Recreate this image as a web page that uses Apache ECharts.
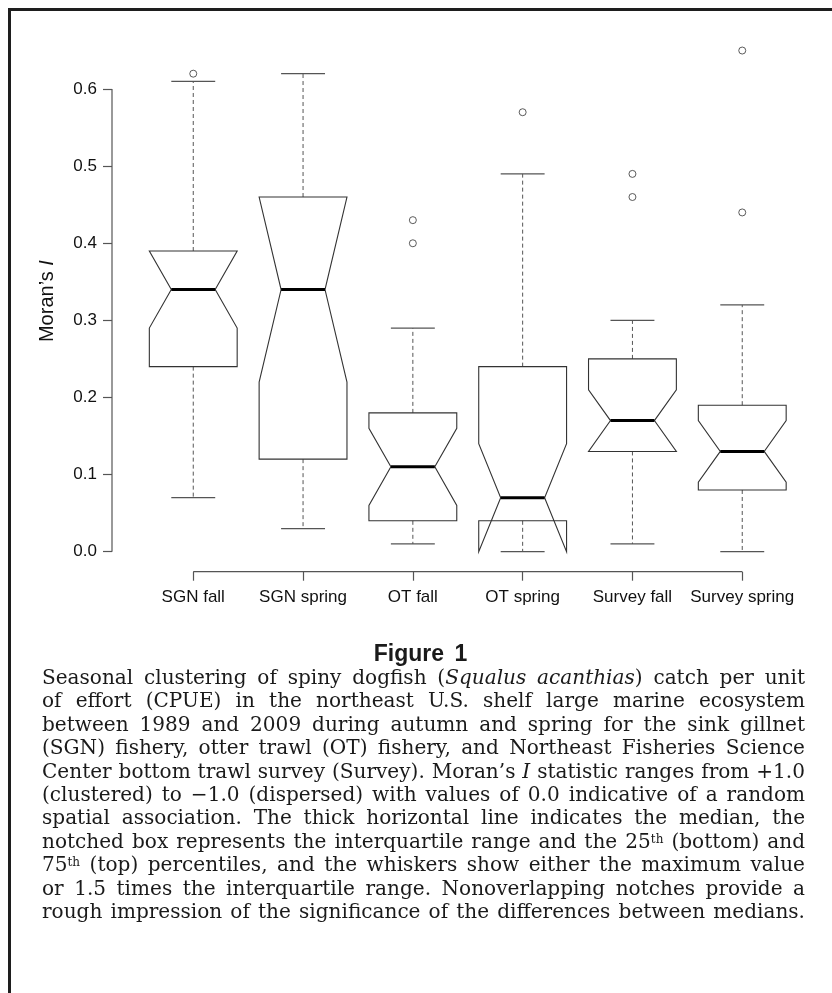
<!DOCTYPE html>
<html>
<head>
<meta charset="utf-8">
<script src="https://cdn.jsdelivr.net/npm/echarts@6/dist/echarts.min.js"></script>
<style>
  html, body { margin: 0; padding: 0; background: #fff; }
  #wrap { position: relative; width: 832px; height: 993px; overflow: hidden; background: #fff; }
  #chart { position: absolute; left: 0; top: 0; width: 832px; height: 993px; }
  #frame { position: absolute; left: 8px; top: 8px; width: 840px; height: 1000px;
           border-top: 3px solid #1e1e1e; border-left: 3px solid #1e1e1e; box-sizing: border-box; }
  #figtitle { position: absolute; left: 9px; width: 823px; top: 640px; text-align: center;
              font-family: "Liberation Sans Narrow", "Liberation Sans", Arial, sans-serif; font-weight: bold;
              font-size: 23px; line-height: 26px; color: #1a1a1a; word-spacing: 4px; }
  #caption { position: absolute; left: 42px; top: 666px; width: 763px;
             font-family: "DejaVu Serif", "Liberation Serif", serif; font-size: 20px; line-height: 23.4px; color: #1a1a1a; }
  #caption div { text-align: justify; text-align-last: justify; height: 23.4px; }
  sup { font-size: 0.6em; line-height: 0; vertical-align: 0.45em; }
</style>
</head>
<body>
<div id="wrap">
  <div id="chart"></div>
  <div id="frame"></div>
  <div id="figtitle">Figure 1</div>
  <div id="caption">
    <div>Seasonal clustering of spiny dogfish (<i>Squalus acanthias</i>) catch per unit</div>
    <div>of effort (CPUE) in the northeast U.S. shelf large marine ecosystem</div>
    <div>between 1989 and 2009 during autumn and spring for the sink gillnet</div>
    <div>(SGN) fishery, otter trawl (OT) fishery, and Northeast Fisheries Science</div>
    <div>Center bottom trawl survey (Survey). Moran’s <i>I</i> statistic ranges from +1.0</div>
    <div>(clustered) to −1.0 (dispersed) with values of 0.0 indicative of a random</div>
    <div>spatial association. The thick horizontal line indicates the median, the</div>
    <div>notched box represents the interquartile range and the 25<sup>th</sup> (bottom) and</div>
    <div>75<sup>th</sup> (top) percentiles, and the whiskers show either the maximum value</div>
    <div>or 1.5 times the interquartile range. Nonoverlapping notches provide a</div>
    <div>rough impression of the significance of the differences between medians.</div>
  </div>
</div>
<script>
// ---- data ----
const categories   = ['SGN fall', 'SGN spring', 'OT fall', 'OT spring', 'Survey fall', 'Survey spring'];
const lowerWhisker = [0.07, 0.03, 0.01, 0.00, 0.01, 0.00];
const q1           = [0.24, 0.12, 0.04, 0.04, 0.13, 0.08];
const notchLow     = [0.29, 0.22, 0.06, 0.00, 0.13, 0.09];
const median       = [0.34, 0.34, 0.11, 0.07, 0.17, 0.13];
const notchHigh    = [0.39, 0.46, 0.16, 0.14, 0.21, 0.17];
const q3           = [0.39, 0.46, 0.18, 0.24, 0.25, 0.19];
const upperWhisker = [0.61, 0.62, 0.29, 0.49, 0.30, 0.32];
const outlierGroup = [1, 3, 3, 4, 5, 5, 6, 6];
const outlierValue = [0.62, 0.43, 0.40, 0.57, 0.49, 0.46, 0.65, 0.44];
const yTicks       = [0.0, 0.1, 0.2, 0.3, 0.4, 0.5, 0.6];
const yTickLabels  = ['0.0', '0.1', '0.2', '0.3', '0.4', '0.5', '0.6'];
const xPositions   = [1, 2, 3, 4, 5, 6];

// ---- caption fitting (typography only) ----
(function fitCaption() {
  const cap = document.getElementById('caption');
  const lines = Array.from(cap.children);
  let maxW = 0;
  lines.forEach(d => { d.style.display = 'inline-block'; d.style.whiteSpace = 'nowrap'; });
  lines.forEach(d => { maxW = Math.max(maxW, d.getBoundingClientRect().width); });
  lines.forEach(d => { d.style.display = ''; d.style.whiteSpace = ''; });
  const base = parseFloat(getComputedStyle(cap).fontSize);
  if (maxW > 0) cap.style.fontSize = (base * 758 / maxW).toFixed(2) + 'px';
})();

// ---- layout / style constants ----
const X_MIN = 0.26, X_MAX = 6.74, Y_MIN = -0.026, Y_MAX = 0.676;
const HALF_W = 0.4, NOTCH_FRAC = 0.5;
const LINE = '#333', AXIS = '#555';

const boxData = categories.map((c, i) => [xPositions[i], lowerWhisker[i], q1[i], notchLow[i], median[i], notchHigh[i], q3[i], upperWhisker[i]]);
const outlierData = outlierGroup.map((g, i) => [g, outlierValue[i]]);

function renderBox(params, api) {
  const x = api.value(0), lw = api.value(1), a = api.value(2), cl = api.value(3),
        md = api.value(4), ch = api.value(5), b = api.value(6), uw = api.value(7);
  const w = HALF_W, n = NOTCH_FRAC * HALF_W;
  const pts = [[x - w, a], [x + w, a], [x + w, cl], [x + n, md], [x + w, ch], [x + w, b],
               [x - w, b], [x - w, ch], [x - n, md], [x - w, cl]].map(p => api.coord(p));
  const P = p => api.coord(p);
  const seg = (p1, p2, style) => ({ type: 'line', shape: { x1: p1[0], y1: p1[1], x2: p2[0], y2: p2[1] }, style });
  const dashed = { stroke: AXIS, lineWidth: 1, lineDash: [4, 3] };
  const solid = { stroke: AXIS, lineWidth: 1.3 };
  return {
    type: 'group',
    children: [
      seg(P([x, b]), P([x, uw]), dashed),
      seg(P([x, a]), P([x, lw]), dashed),
      seg(P([x - n, uw]), P([x + n, uw]), solid),
      seg(P([x - n, lw]), P([x + n, lw]), solid),
      { type: 'polygon', shape: { points: pts }, style: { fill: 'none', stroke: LINE, lineWidth: 1.1 } },
      seg(P([x - n, md]), P([x + n, md]), { stroke: '#000', lineWidth: 3 })
    ]
  };
}

function renderAxes(params, api) {
  const y0 = api.coord([X_MIN, yTicks[0]]);
  const y1 = api.coord([X_MIN, yTicks[yTicks.length - 1]]);
  const x0 = api.coord([xPositions[0], Y_MIN]);
  const x1 = api.coord([xPositions[xPositions.length - 1], Y_MIN]);
  return {
    type: 'group',
    children: [
      { type: 'line', shape: { x1: y0[0], y1: y0[1], x2: y1[0], y2: y1[1] }, style: { stroke: AXIS, lineWidth: 1.2 } },
      { type: 'line', shape: { x1: x0[0], y1: x0[1], x2: x1[0], y2: x1[1] }, style: { stroke: AXIS, lineWidth: 1.2 } }
    ]
  };
}

const chart = echarts.init(document.getElementById('chart'), null, { renderer: 'canvas' });
chart.setOption({
  animation: false,
  backgroundColor: 'transparent',
  grid: { left: 112, right: 8.5, top: 30.5, bottom: 421.3, containLabel: false },
  xAxis: {
    type: 'value', min: X_MIN, max: X_MAX,
    axisLine: { show: false, onZero: false }, splitLine: { show: false },
    axisTick: { show: true, customValues: xPositions, length: 9, lineStyle: { color: AXIS, width: 1.2 } },
    axisLabel: { show: true, customValues: xPositions, margin: 17, fontSize: 17, color: '#111',
                 fontFamily: 'Liberation Sans, Arial, sans-serif',
                 formatter: v => categories[Math.round(v) - 1] }
  },
  yAxis: {
    type: 'value', min: Y_MIN, max: Y_MAX,
    axisLine: { show: false, onZero: false }, splitLine: { show: false },
    axisTick: { show: true, customValues: yTicks, length: 9, lineStyle: { color: AXIS, width: 1.2 } },
    axisLabel: { show: true, customValues: yTicks, margin: 15, fontSize: 17, color: '#111',
                 fontFamily: 'Liberation Sans, Arial, sans-serif',
                 formatter: v => yTickLabels[yTicks.findIndex(t => Math.abs(t - v) < 1e-9)] },
    name: '{a|Moran’s }{b|I}', nameLocation: 'middle', nameGap: 55, nameRotate: 90,
    nameTextStyle: {
      rich: {
        a: { fontSize: 20, color: '#111', fontFamily: 'Liberation Sans, Arial, sans-serif' },
        b: { fontSize: 20, color: '#111', fontStyle: 'italic', fontFamily: 'Liberation Sans, Arial, sans-serif' }
      }
    }
  },
  series: [
    { type: 'custom', renderItem: renderAxes, data: [[0]], clip: false, silent: true, z: 1 },
    { type: 'custom', renderItem: renderBox, data: boxData, clip: false, silent: true, z: 2,
      encode: { x: 0, y: [1, 2, 3, 4, 5, 6, 7] } },
    { type: 'scatter', data: outlierData, symbol: 'circle', symbolSize: 7, silent: true, z: 3,
      itemStyle: { color: '#fff', borderColor: LINE, borderWidth: 1 } }
  ]
});
</script>
</body>
</html>
